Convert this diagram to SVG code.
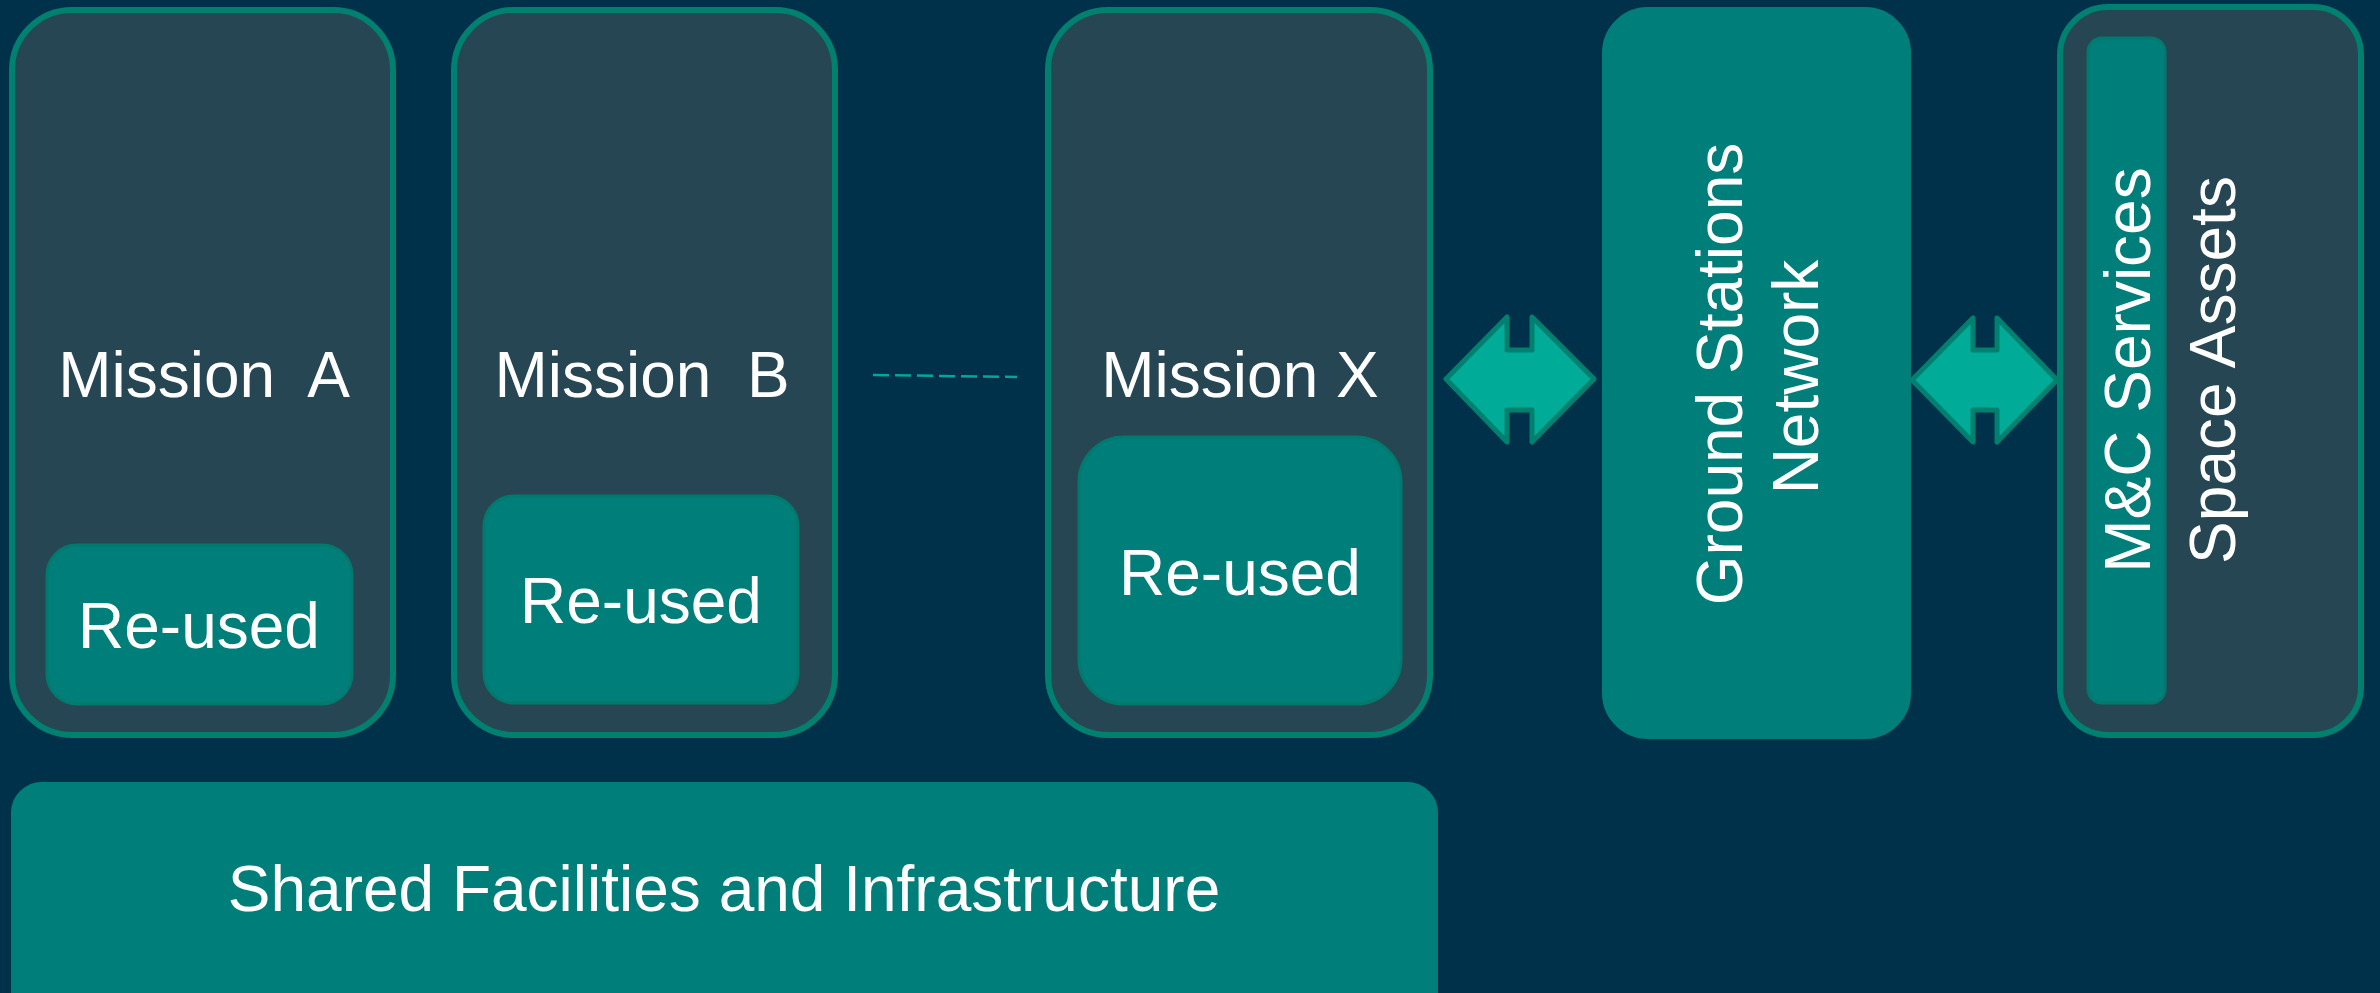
<svg xmlns="http://www.w3.org/2000/svg" width="2380" height="993" viewBox="0 0 2380 993">
<style>
.mission{fill:#264653;stroke:#00806e;stroke-width:6}
.reused{fill:#007f7a;stroke:#007a6c;stroke-width:3}
.solid{fill:#007f7a;stroke:#007f7a;stroke-width:2}
.arrow{fill:#00ab98;stroke:#00806f;stroke-width:5;stroke-linejoin:round}
.t{font-family:"Liberation Sans",Arial,sans-serif;font-size:64px;fill:#ffffff}
.c{text-anchor:middle}
</style>
<rect width="2380" height="993" fill="#00314a"/>
<g id="mission-a">
<rect class="mission" x="12" y="10" width="381" height="725" rx="60"/>
<text class="t c" x="204" y="397" xml:space="preserve">Mission  A</text>
</g>
<g id="reused-a">
<rect class="reused" x="47" y="545" width="305" height="159" rx="30"/>
<text class="t c" x="199" y="648">Re-used</text>
</g>
<g id="mission-b">
<rect class="mission" x="454" y="10" width="381" height="725" rx="60"/>
<text class="t c" x="642" y="397" xml:space="preserve">Mission  B</text>
</g>
<g id="reused-b">
<rect class="reused" x="484" y="496" width="314" height="207" rx="30"/>
<text class="t c" x="641" y="623">Re-used</text>
</g>
<g id="mission-x">
<rect class="mission" x="1048" y="10" width="382" height="725" rx="60"/>
<text class="t c" x="1240" y="397">Mission X</text>
</g>
<g id="reused-x">
<rect class="reused" x="1079" y="437" width="322" height="267" rx="45"/>
<text class="t c" x="1240" y="595">Re-used</text>
</g>
<g id="ground-stations">
<rect class="solid" x="1603" y="8" width="307" height="730" rx="45"/>
<text class="t c" transform="translate(1742,374) rotate(-90)"><tspan x="0" y="0">Ground Stations</tspan><tspan x="-3" y="76">Network</tspan></text>
</g>
<g id="space-assets">
<rect class="mission" x="2060" y="7" width="301" height="728" rx="48"/>
<rect class="reused" x="2088" y="38" width="77" height="665" rx="14"/>
<text class="t c" transform="translate(2150,370) rotate(-90)">M&amp;C Services</text>
<text class="t c" transform="translate(2235,370) rotate(-90)">Space Assets</text>
</g>
<g id="shared-facilities">
<rect class="solid" x="12" y="783" width="1425" height="240" rx="30"/>
<text class="t c" x="724" y="911">Shared Facilities and Infrastructure</text>
</g>
<g id="connectors">
<line x1="873" y1="375" x2="1017" y2="377" stroke="#00a89a" stroke-width="2.5" stroke-dasharray="16 6"/>
<path class="arrow" d="M1446,379 L1507,317 L1507,350 L1532,350 L1532,317 L1594,379 L1532,442 L1532,410 L1507,410 L1507,442 Z"/>
<path class="arrow" d="M1912,380 L1973,318 L1973,350 L1997,350 L1997,318 L2057,380 L1997,442 L1997,410 L1973,410 L1973,442 Z"/>
</g>
</svg>
